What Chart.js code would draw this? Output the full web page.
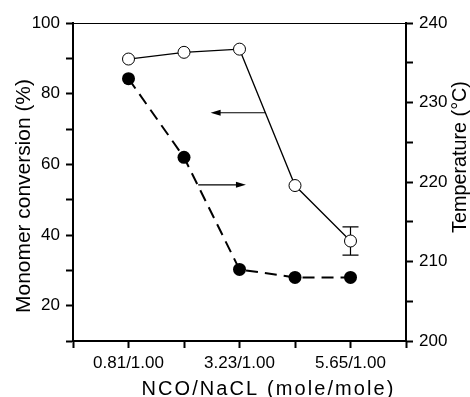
<!DOCTYPE html>
<html>
<head>
<meta charset="utf-8">
<script src="https://cdn.jsdelivr.net/npm/chart.js@4/dist/chart.umd.min.js"></script>
<style>
  body { margin: 0; background: #fff; }
  #box { width: 470px; height: 397px; }
</style>
</head>
<body>
<div id="box"><canvas id="grafico"></canvas></div>
<script>
// dados
const ncoRatio = [0.81, 2.02, 3.23, 4.44, 5.65];          // NCO/NaCL (mole/mole)
const labeledRatios = [0.81, 3.23, 5.65];                  // ticks com rótulo
const conversion = [89.8, 91.7, 92.6, 54.0, 38.3];         // Monomer conversion (%)
const conversionErr = [0, 0, 0, 0, 4.0];                   // barra de erro
const temperature = [233.0, 223.1, 209.0, 208.0, 208.0];   // Temperature (°C)

// setas (coordenadas de dados: x = razão, y = eixo esquerdo)
const arrows = [
    { from: [3.79, 74.6], to: [2.60, 74.6] },
    { from: [2.33, 54.2], to: [3.37, 54.2] }
];

const step = ncoRatio[1] - ncoRatio[0];
const xMin = +(ncoRatio[0] - step).toFixed(2);
const xMax = +(ncoRatio[ncoRatio.length - 1] + step).toFixed(2);

const font = '"Liberation Sans", Arial, sans-serif';

// desenha texto ajustando o tamanho para ocupar o comprimento desejado
function fitText(ctx, text, size, length, spacing) {
    ctx.letterSpacing = '0px';
    ctx.font = size + 'px ' + font;
    const w = ctx.measureText(text).width;
    if (spacing) {
        ctx.letterSpacing = ((length - w) / (text.length - 1)) + 'px';
    } else {
        ctx.font = (size * length / w) + 'px ' + font;
    }
    ctx.fillText(text, 0, 0);
    ctx.letterSpacing = '0px';
}

// plugin: linha de cima, barras de erro, setas e títulos
const extras = {
    id: 'extras',
    beforeDatasetsDraw(chart) {
        const ctx = chart.ctx;
        const x = chart.scales.x, y = chart.scales.y;
        ctx.save();
        ctx.strokeStyle = '#000';
        ctx.lineWidth = 1.2;
        conversion.forEach((v, i) => {
            const e = conversionErr[i];
            if (!e) return;
            const px = x.getPixelForValue(ncoRatio[i]);
            const top = y.getPixelForValue(v + e), bot = y.getPixelForValue(v - e);
            ctx.beginPath();
            ctx.moveTo(px, top); ctx.lineTo(px, bot);
            ctx.moveTo(px - 8, top); ctx.lineTo(px + 8, top);
            ctx.moveTo(px - 8, bot); ctx.lineTo(px + 8, bot);
            ctx.stroke();
        });
        ctx.restore();
    },
    afterDraw(chart) {
        const ctx = chart.ctx;
        const a = chart.chartArea;
        const x = chart.scales.x, y = chart.scales.y;
        ctx.save();
        // linha fina em cima
        ctx.strokeStyle = '#000';
        ctx.lineWidth = 1;
        ctx.beginPath();
        ctx.moveTo(a.left, a.top + 0.5);
        ctx.lineTo(a.right, a.top + 0.5);
        ctx.stroke();

        // setas
        ctx.fillStyle = '#000';
        ctx.lineWidth = 1.2;
        arrows.forEach(ar => {
            const x1 = x.getPixelForValue(ar.from[0]), y1 = y.getPixelForValue(ar.from[1]);
            const x2 = x.getPixelForValue(ar.to[0]), y2 = y.getPixelForValue(ar.to[1]);
            const ang = Math.atan2(y2 - y1, x2 - x1);
            ctx.beginPath();
            ctx.moveTo(x1, y1);
            ctx.lineTo(x2 - 8 * Math.cos(ang), y2 - 8 * Math.sin(ang));
            ctx.stroke();
            ctx.beginPath();
            ctx.moveTo(x2, y2);
            ctx.lineTo(x2 - 10 * Math.cos(ang) + 3 * Math.sin(ang), y2 - 10 * Math.sin(ang) - 3 * Math.cos(ang));
            ctx.lineTo(x2 - 10 * Math.cos(ang) - 3 * Math.sin(ang), y2 - 10 * Math.sin(ang) + 3 * Math.cos(ang));
            ctx.closePath();
            ctx.fill();
        });

        // títulos dos eixos
        ctx.fillStyle = '#000';
        ctx.textAlign = 'center';
        ctx.textBaseline = 'middle';

        ctx.save();
        ctx.translate(24, (a.top + a.bottom) / 2 + 14);
        ctx.rotate(-Math.PI / 2);
        fitText(ctx, 'Monomer conversion (%)', 21, 234, false);
        ctx.restore();

        ctx.save();
        ctx.translate(461, (a.top + a.bottom) / 2 - 25);
        ctx.rotate(-Math.PI / 2);
        fitText(ctx, 'Temperature (°C)', 20, 152, false);
        ctx.restore();

        ctx.save();
        ctx.textBaseline = 'alphabetic';
        ctx.translate((a.left + a.right) / 2 + 29, 395);
        fitText(ctx, 'NCO/NaCL (mole/mole)', 20, 252, true);
        ctx.restore();
        ctx.restore();
    }
};

const tickFont = { family: font, size: 17 };

new Chart(document.getElementById('grafico').getContext('2d'), {
    type: 'line',
    data: {
        datasets: [{
            label: 'Monomer conversion',
            data: ncoRatio.map((r, i) => ({ x: r, y: conversion[i] })),
            yAxisID: 'y',
            borderColor: '#000',
            borderWidth: 1.3,
            pointRadius: 6,
            pointBackgroundColor: '#fff',
            pointBorderColor: '#000',
            pointBorderWidth: 1,
            tension: 0
        }, {
            label: 'Temperature',
            data: ncoRatio.map((r, i) => ({ x: r, y: temperature[i] })),
            yAxisID: 'y1',
            borderColor: '#000',
            borderWidth: 2,
            borderDash: [12, 7],
            pointRadius: 6.5,
            pointBackgroundColor: '#000',
            pointBorderColor: '#000',
            pointBorderWidth: 0,
            tension: 0
        }]
    },
    options: {
        responsive: true,
        maintainAspectRatio: false,
        animation: false,
        layout: { padding: { top: 23, left: 0, right: 0, bottom: 0 } },
        plugins: { legend: { display: false }, tooltip: { enabled: false } },
        scales: {
            x: {
                type: 'linear',
                min: xMin,
                max: xMax,
                afterBuildTicks: scale => {
                    const t = [];
                    for (let i = 0; i <= ncoRatio.length + 1; i++) t.push({ value: +(xMin + i * step).toFixed(2) });
                    scale.ticks = t;
                },
                afterFit: scale => { scale.height = 56; },
                grid: { drawOnChartArea: false, tickLength: 7, tickWidth: 2, tickColor: '#000' },
                border: { color: '#000', width: 2 },
                ticks: {
                    autoSkip: false, maxRotation: 0, padding: 5,
                    color: '#000', font: tickFont,
                    callback: v => labeledRatios.some(l => Math.abs(l - v) < 0.005) ? v.toFixed(2) + '/1.00' : ''
                }
            },
            y: {
                position: 'left',
                min: 10,
                max: 100,
                afterFit: scale => { scale.width = 73; },
                grid: { drawOnChartArea: false, tickLength: 7, tickWidth: 2, tickColor: '#000' },
                border: { color: '#000', width: 2 },
                ticks: {
                    stepSize: 10, autoSkip: false, padding: 6,
                    color: '#000', font: tickFont,
                    callback: v => v % 20 === 0 ? v : ''
                }
            },
            y1: {
                position: 'right',
                min: 200,
                max: 240,
                afterFit: scale => { scale.width = 64; },
                grid: { drawOnChartArea: false, tickLength: 7, tickWidth: 2, tickColor: '#000' },
                border: { color: '#000', width: 2 },
                ticks: {
                    stepSize: 5, autoSkip: false, padding: 6,
                    color: '#000', font: tickFont,
                    callback: v => v % 10 === 0 ? v : ''
                }
            }
        }
    },
    plugins: [extras]
});
</script>
</body>
</html>
